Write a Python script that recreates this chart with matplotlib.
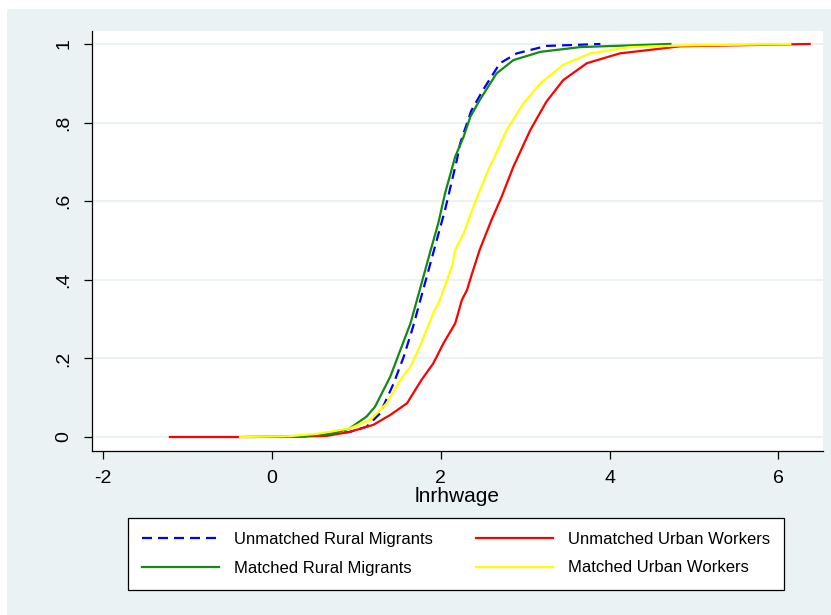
import matplotlib.pyplot as plt
from matplotlib.patches import Rectangle

plt.rcParams['font.family'] = ['Liberation Sans', 'DejaVu Sans']

# values (lnrhwage, cumulative share)
unm_rural_x = [0.1, 0.5, 0.92, 1.12, 1.28, 1.44, 1.56, 1.67, 1.79, 1.93, 2.05, 2.19, 2.23, 2.36, 2.50, 2.70, 2.90, 3.25, 3.89]
unm_rural_y = [0.0, 0.003, 0.013, 0.026, 0.06, 0.136, 0.204, 0.28, 0.374, 0.484, 0.578, 0.705, 0.748, 0.83, 0.883, 0.951, 0.976, 0.995, 1.0]

unm_urban_x = [-1.21, -0.35, 0.3, 0.65, 0.92, 1.20, 1.40, 1.60, 1.77, 1.91, 2.03, 2.17, 2.25, 2.31, 2.37, 2.46, 2.60, 2.72,
               2.86, 3.06, 3.25, 3.45, 3.73, 4.12, 4.56, 4.83, 6.37]
unm_urban_y = [0.0, 0.0, 0.001, 0.003, 0.013, 0.031, 0.056, 0.086, 0.145, 0.187, 0.238, 0.289, 0.349, 0.374, 0.416, 0.476, 0.552, 0.611,
               0.688, 0.781, 0.853, 0.908, 0.951, 0.976, 0.987, 0.994, 1.0]

mat_rural_x = [-0.3, 0.33, 0.73, 0.92, 1.12, 1.22, 1.40, 1.52, 1.64, 1.75, 1.87, 1.97, 2.05, 2.17, 2.27, 2.35, 2.46, 2.66, 2.86, 3.18, 3.65, 4.72]
mat_rural_y = [0.0, 0.001, 0.009, 0.022, 0.052, 0.077, 0.153, 0.221, 0.289, 0.374, 0.468, 0.544, 0.62, 0.713, 0.764, 0.815, 0.857, 0.925, 0.959, 0.98, 0.992, 1.0]

mat_urban_x = [-0.38, 0.2, 0.53, 0.92, 1.16, 1.36, 1.52, 1.64, 1.75, 1.91, 1.99, 2.03, 2.13, 2.17, 2.27, 2.43, 2.58, 2.62,
               2.78, 2.98, 3.18, 3.45, 3.77, 4.24, 4.83, 6.14]
mat_urban_y = [0.0, 0.002, 0.008, 0.022, 0.043, 0.086, 0.145, 0.179, 0.23, 0.315, 0.349, 0.374, 0.433, 0.476, 0.518, 0.611, 0.688, 0.705,
               0.781, 0.849, 0.90, 0.947, 0.976, 0.992, 0.996, 1.0]

x_ticks = [-2, 0, 2, 4, 6]
y_ticks = [0, 0.2, 0.4, 0.6, 0.8, 1]
y_ticklabels = ['0', '.2', '.4', '.6', '.8', '1']

bg = '#EAF2F3'
W, H = 831, 615

fig = plt.figure(figsize=(W / 100, H / 100), dpi=100, facecolor='white')
fig.patches.append(Rectangle((7 / W, 0), 1 - 7 / W, 1 - 9 / H, transform=fig.transFigure,
                             facecolor=bg, edgecolor='none', zorder=-10))

ax = fig.add_axes([92 / W, 1 - 451 / H, (823 - 92) / W, (451 - 31) / H])
ax.set_facecolor('white')

lw = 1.6
l1, = ax.plot(unm_rural_x, unm_rural_y, color='#0000FF', lw=lw, linestyle=(0, (4.5, 2.7)))
l2, = ax.plot(unm_urban_x, unm_urban_y, color='#FF0000', lw=lw)
l3, = ax.plot(mat_rural_x, mat_rural_y, color='#138A13', lw=lw)
l4, = ax.plot(mat_urban_x, mat_urban_y, color='#FFFF00', lw=lw)

ax.set_xlim(-2.133, 6.528)
ax.set_ylim(-0.0356, 1.033)

ax.set_xticks(x_ticks)
ax.set_xticklabels([str(t) for t in x_ticks])
ax.set_yticks(y_ticks)
ax.set_yticklabels(y_ticklabels, rotation=90, va='center')
ax.tick_params(axis='both', labelsize=14, length=6, width=0.9, color='black', pad=8)
ax.yaxis.grid(True, color=bg, lw=1.5)
ax.set_axisbelow(True)

for s in ['top', 'right']:
    ax.spines[s].set_visible(False)
for s in ['left', 'bottom']:
    ax.spines[s].set_linewidth(0.9)

ax.set_xlabel('lnrhwage', fontsize=15, labelpad=0)

# column-major order so rows read Unmatched / Matched
leg = fig.legend([l1, l3, l2, l4],
                 ['Unmatched Rural Migrants', 'Matched Rural Migrants',
                  'Unmatched Urban Workers', 'Matched Urban Workers'],
                 ncol=2, loc='upper left', bbox_to_anchor=(128 / W, 1 - 518 / H),
                 borderaxespad=0, fontsize=12, handlelength=4.6, handletextpad=0.9,
                 columnspacing=2.6, labelspacing=0.8, borderpad=0.85,
                 frameon=True, fancybox=False, edgecolor='black', facecolor='white', framealpha=1)
leg.get_frame().set_linewidth(0.9)

fig.savefig('out.png', dpi=100, facecolor=fig.get_facecolor())
